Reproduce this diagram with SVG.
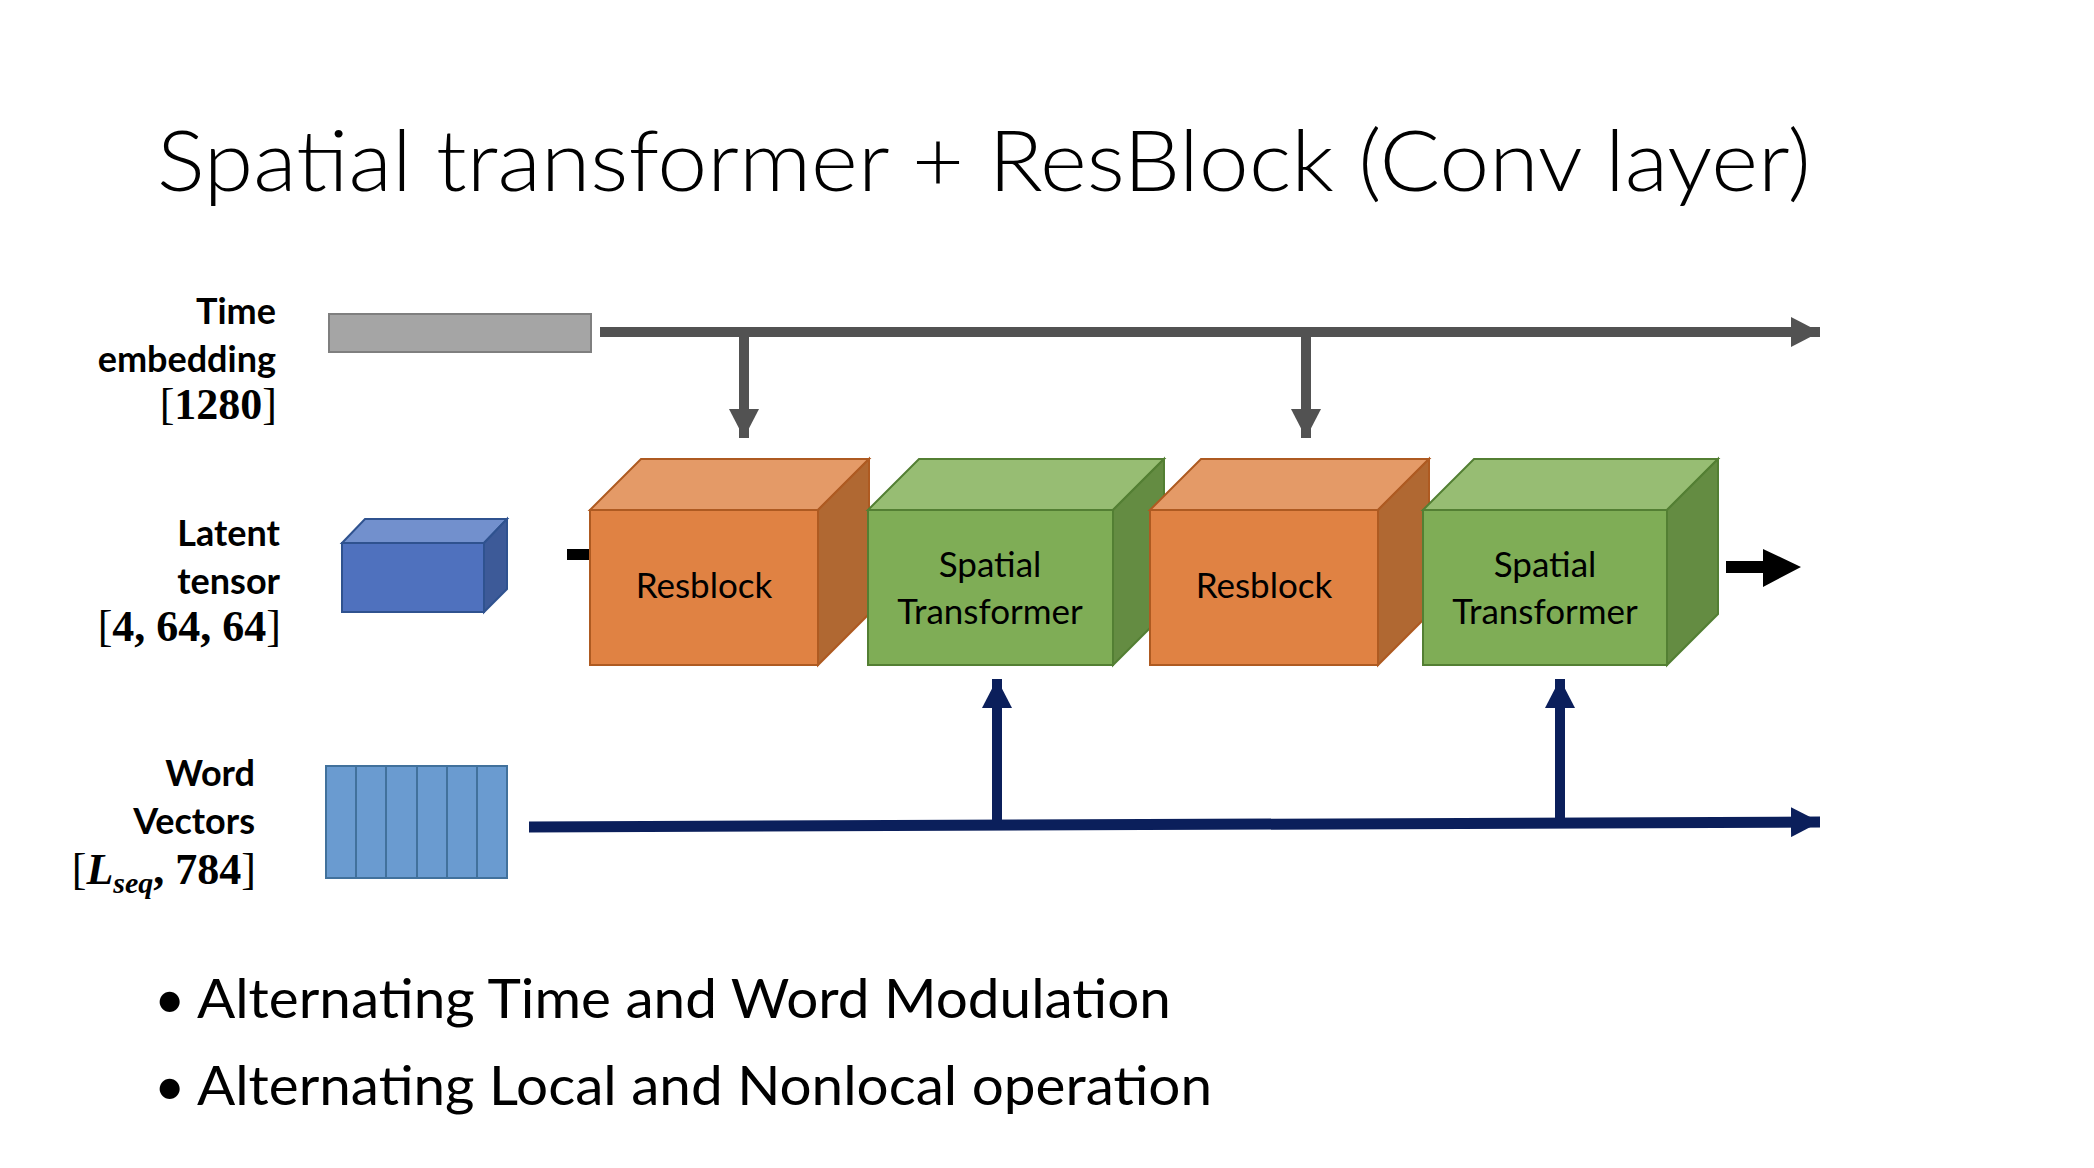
<svg xmlns="http://www.w3.org/2000/svg" width="2094" height="1168" viewBox="0 0 2094 1168">
<style>
.title{font-family:Lato,"Open Sans","Liberation Sans",sans-serif;font-weight:300;font-size:84px;fill:#000}
.bullet{font-family:Lato,"Open Sans","Liberation Sans",sans-serif;font-size:54px;fill:#000}
.lbl{font-family:Lato,"Liberation Sans",sans-serif;font-weight:bold;font-size:36px;fill:#000;text-anchor:end}
.math{font-family:"Liberation Serif","DejaVu Serif",serif;font-size:44px;fill:#000;text-anchor:end}
.mb{font-weight:bold}
.mi{font-weight:bold;font-style:italic}
.blk{font-family:Lato,"Liberation Sans",sans-serif;font-size:35px;fill:#000;text-anchor:middle}
.of{fill:#e08243;stroke:#ae5a21;stroke-width:2}
.ot{fill:#e49a67;stroke:#ae5a21;stroke-width:2}
.os{fill:#b06832;stroke:#ae5a21;stroke-width:2}
.gf{fill:#7fad56;stroke:#537f33;stroke-width:2}
.gt{fill:#97bd73;stroke:#537f33;stroke-width:2}
.gs{fill:#648c42;stroke:#537f33;stroke-width:2}
</style>
<defs>
<marker id="gh" markerUnits="userSpaceOnUse" markerWidth="30" markerHeight="30" refX="29" refY="15" orient="auto"><path d="M0,0 L29,15 L0,30 Z" fill="#525252"/></marker>
<marker id="nh" markerUnits="userSpaceOnUse" markerWidth="30" markerHeight="30" refX="29" refY="15" orient="auto"><path d="M0,0 L29,15 L0,30 Z" fill="#0b1f5b"/></marker>
</defs>
<rect width="2094" height="1168" fill="#fff"/>
<text class="title" x="157" y="191" textLength="1654" lengthAdjust="spacingAndGlyphs">Spatial transformer + ResBlock (Conv layer)</text>

<g id="time-embedding">
<text class="lbl" x="276" y="324">Time</text>
<text class="lbl" x="276" y="372">embedding</text>
<text class="math" x="277" y="419">[<tspan class="mb">1280</tspan>]</text>
<rect x="329" y="314" width="262" height="38" fill="#a5a5a5" stroke="#7f7f7f" stroke-width="2"/>
</g>

<g id="latent-tensor">
<text class="lbl" x="280" y="546">Latent</text>
<text class="lbl" x="280" y="594">tensor</text>
<text class="math" x="281" y="641">[<tspan class="mb">4, 64, 64</tspan>]</text>
<polygon points="342,543 365,519 507,519 484,543" fill="#7290cd" stroke="#2f528f" stroke-width="2"/>
<polygon points="484,543 507,519 507,589 484,612" fill="#3d5a98" stroke="#2f528f" stroke-width="2"/>
<rect x="342" y="543" width="142" height="69" fill="#4f71be" stroke="#2f528f" stroke-width="2"/>
</g>

<g id="word-vectors">
<text class="lbl" x="255" y="786">Word</text>
<text class="lbl" x="255" y="834">Vectors</text>
<text class="math" x="256" y="884">[<tspan class="mi">L</tspan><tspan class="mi" font-size="30" dy="9">seq</tspan><tspan dy="-9" class="mb">, 784</tspan>]</text>
<rect x="326" y="766" width="181" height="112" fill="#6a9bd0" stroke="#41719c" stroke-width="2"/>
<path d="M356,766V878M386,766V878M417,766V878M447,766V878M477,766V878" stroke="#41719c" stroke-width="2"/>
</g>

<g id="connectors">
<line x1="600" y1="332" x2="1820" y2="332" stroke="#525252" stroke-width="10" marker-end="url(#gh)"/>
<line x1="744" y1="332" x2="744" y2="438" stroke="#525252" stroke-width="10" marker-end="url(#gh)"/>
<line x1="1306" y1="332" x2="1306" y2="438" stroke="#525252" stroke-width="10" marker-end="url(#gh)"/>
<line x1="529" y1="827" x2="1820" y2="822" stroke="#0b1f5b" stroke-width="11" marker-end="url(#nh)"/>
<line x1="997" y1="826" x2="997" y2="679" stroke="#0b1f5b" stroke-width="10" marker-end="url(#nh)"/>
<line x1="1560" y1="824" x2="1560" y2="679" stroke="#0b1f5b" stroke-width="10" marker-end="url(#nh)"/>
<rect x="567" y="549" width="26" height="11" fill="#000"/>
<path d="M1726,561H1763V549L1801,567L1763,587V573H1726Z" fill="#000"/>
</g>

<g id="resblock-1">
<polygon class="ot" points="590,510 641,459 869,459 818,510"/>
<polygon class="os" points="818,510 869,459 869,614 818,665"/>
<rect class="of" x="590" y="510" width="228" height="155"/>
<text class="blk" x="704" y="598">Resblock</text>
</g>
<g id="spatial-transformer-1">
<polygon class="gt" points="868,510 919,459 1164,459 1113,510"/>
<polygon class="gs" points="1113,510 1164,459 1164,614 1113,665"/>
<rect class="gf" x="868" y="510" width="245" height="155"/>
<text class="blk" x="990" y="577">Spatial</text>
<text class="blk" x="990" y="624">Transformer</text>
</g>
<g id="resblock-2">
<polygon class="ot" points="1150,510 1201,459 1429,459 1378,510"/>
<polygon class="os" points="1378,510 1429,459 1429,614 1378,665"/>
<rect class="of" x="1150" y="510" width="228" height="155"/>
<text class="blk" x="1264" y="598">Resblock</text>
</g>
<g id="spatial-transformer-2">
<polygon class="gt" points="1423,510 1474,459 1718,459 1667,510"/>
<polygon class="gs" points="1667,510 1718,459 1718,614 1667,665"/>
<rect class="gf" x="1423" y="510" width="244" height="155"/>
<text class="blk" x="1545" y="577">Spatial</text>
<text class="blk" x="1545" y="624">Transformer</text>
</g>

<g id="bullets">
<text class="bullet" x="154" y="1018">•</text>
<text class="bullet" x="197" y="1018" textLength="974" lengthAdjust="spacingAndGlyphs">Alternating Time and Word Modulation</text>
<text class="bullet" x="154" y="1105">•</text>
<text class="bullet" x="197" y="1105" textLength="1015" lengthAdjust="spacingAndGlyphs">Alternating Local and Nonlocal operation</text>
</g>
</svg>
